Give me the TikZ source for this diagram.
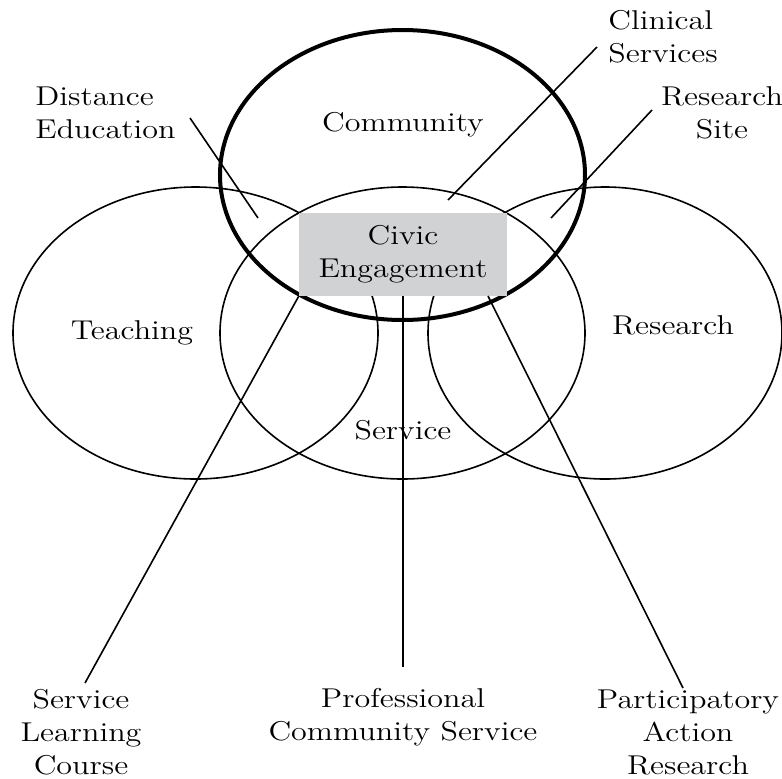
\documentclass[tikz,border=0pt]{standalone}
\usepackage{fontspec}
\setmainfont{Latin Modern Roman}[FakeStretch=1.18]
\usetikzlibrary{positioning}
\usetikzlibrary{shapes.geometric}
\definecolor{boxgray}{RGB}{209,210,212}

\begin{document}
\begin{tikzpicture}[x=0.5pt, y=-0.5pt,
    ring/.style = {ellipse, draw, line width=0.8pt, inner sep=0pt, minimum width=182.5pt, minimum height=146pt},
    word/.style = {font=\fontsize{13.6}{16.5}\selectfont, align=center, inner sep=0pt},
    pointer/.style = {line width=0.8pt}]
    \useasboundingbox (0,0) rectangle (782,778);
    \node[ring] (1) at (195.5,333) {};
    \node[ring] (2) at (402.5,333) {};
    \node[ring, minimum width=177pt] (3) at (605,333) {};
    \node[ring, line width=2pt, minimum height=145pt] (4) at (402.5,175) {}; % community, thick
    \node[word, fill=boxgray, minimum width=104pt, minimum height=41.5pt] (5) at (403,254.5) {Civic\\Engagement};
    \node[word] (6) at (403,125) {Community};
    \node[word] (7) at (132,333) {Teaching};
    \node[word] (8) at (673,325) {Research};
    \node[word] (9) at (403,430) {Service};
    \node[word, align=left, anchor=west] (10) at (35,113) {Distance\\Education};
    \node[word, align=left, anchor=west] (11) at (608,37) {Clinical\\Services};
    \node[word] (12) at (722,113) {Research\\Site};
    \node[word] (13) at (81,732) {Service\\Learning\\Course};
    \node[word] (14) at (403,717) {Professional\\Community Service};
    \node[word] (15) at (688,732) {Participatory\\Action\\Research};
    % ends of the pointer lines
    \coordinate (d1) at (190,118);
    \coordinate (d2) at (258,218);
    \coordinate (c1) at (597,47);
    \coordinate (c2) at (448,200);
    \coordinate (r1) at (652,110);
    \coordinate (r2) at (551,218);
    \coordinate (s1) at (85,683);
    \coordinate (p1) at (403,667);
    \coordinate (a0) at (488,296);
    \coordinate (a1) at (683,688);
    \draw[pointer] (d1) -- (d2);
    \draw[pointer] (c1) -- (c2);
    \draw[pointer] (r1) -- (r2);
    \draw[pointer] (5.south west) -- (s1);
    \draw[pointer] (5.south) -- (p1);
    \draw[pointer] (a0) -- (a1);
\end{tikzpicture}
\end{document}
